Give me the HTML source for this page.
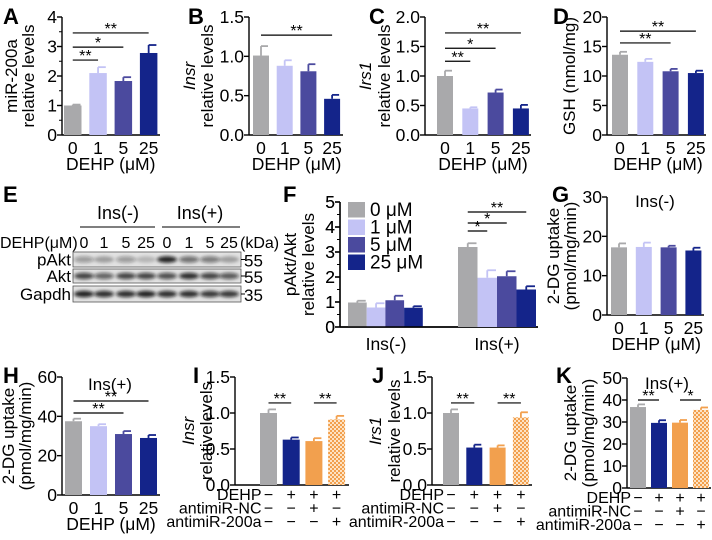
<!DOCTYPE html>
<html><head><meta charset="utf-8"><style>
html,body{margin:0;padding:0;background:#fff}
svg{display:block;font-family:"Liberation Sans",Arial,sans-serif}
</style></head><body>
<svg id="fig" width="712" height="540" viewBox="0 0 712 540" xmlns="http://www.w3.org/2000/svg">
<defs>
<pattern id="chk" width="4" height="4" patternUnits="userSpaceOnUse"><rect width="4" height="4" fill="#fde3c4"/><rect width="2" height="2" fill="#f2a04e"/><rect x="2" y="2" width="2" height="2" fill="#f2a04e"/></pattern>
<filter id="blur" x="-20%" y="-50%" width="140%" height="200%"><feGaussianBlur stdDeviation="1.6"/></filter>
</defs>
<g id="blot"></g>
</svg>
<script>
// ---- data ----
const doseCats=['0','1','5','25'];
const A_vals=[1.0,2.1,1.83,2.78]; const A_errs=[0.03,0.2,0.13,0.27];
const A_ticks=[0,1,2,3,4]; const A_tickLabels=['0','1','2','3','4'];
const B_vals=[1.01,0.88,0.81,0.46]; const B_errs=[0.12,0.07,0.09,0.05];
const B_ticks=[0,0.5,1,1.5]; const B_tickLabels=['0.0','0.5','1.0','1.5'];
const C_vals=[1.0,0.45,0.72,0.45]; const C_errs=[0.09,0.02,0.05,0.06];
const C_ticks=[0,0.5,1,1.5,2]; const C_tickLabels=['0.0','0.5','1.0','1.5','2.0'];
const D_vals=[13.6,12.4,10.8,10.5]; const D_errs=[0.5,0.5,0.4,0.4];
const D_ticks=[0,5,10,15,20]; const D_tickLabels=['0','5','10','15','20'];
const F_groups=['Ins(-)','Ins(+)'];
const F_legend=['0 μM','1 μM','5 μM','25 μM'];
const F_valsMinus=[0.98,0.78,1.07,0.77]; const F_errsMinus=[0.07,0.17,0.18,0.06];
const F_valsPlus=[3.2,1.97,2.03,1.5]; const F_errsPlus=[0.15,0.3,0.2,0.13];
const F_ticks=[0,1,2,3,4,5]; const F_tickLabels=['0','1','2','3','4','5'];
const G_vals=[17.2,17.3,17.2,16.4]; const G_errs=[1.0,1.1,0.4,0.7];
const G_ticks=[0,10,20,30]; const G_tickLabels=['0','10','20','30'];
const H_vals=[37.5,35,31,29]; const H_errs=[1.3,1.0,1.5,1.5];
const H_ticks=[0,20,40,60]; const H_tickLabels=['0','20','40','60'];
const I_vals=[1.0,0.63,0.61,0.91]; const I_errs=[0.05,0.03,0.04,0.05];
const J_vals=[1.0,0.52,0.52,0.94]; const J_errs=[0.05,0.04,0.03,0.07];
const IJ_ticks=[0,0.5,1,1.5]; const IJ_tickLabels=['0.0','0.5','1.0','1.5'];
const K_vals=[36.8,29.6,29.7,35.5]; const K_errs=[1.2,1.2,1.2,1.1];
const K_ticks=[0,10,20,30,40,50]; const K_tickLabels=['0','10','20','30','40','50'];
const treatRows=['DEHP','antimiR-NC','antimiR-200a'];
const treatDEHP=['−','+','+','+']; const treatNC=['−','−','+','−']; const treat200a=['−','−','−','+'];

const doseColors=['#a9a9ab','#c3c3f5','#4b4a9e','#14248a'];
const treatColors=['#a9a9ab','#14248a','#f2a04e','url(#chk)'];

const svg=document.getElementById('fig');
const NS='http://www.w3.org/2000/svg';
function mk(tag,attrs,parent,txt){const e=document.createElementNS(NS,tag);for(const k in attrs)e.setAttribute(k,attrs[k]);if(txt!==undefined)e.textContent=txt;(parent||svg).appendChild(e);return e;}

function letter(t,x,y){const e=mk('text',{x:x,y:y,'font-size':22,'font-weight':'bold'},svg,t);

}

function chart(c){
  const g=mk('g',{});
  
  
  const max=c.ticks[c.ticks.length-1];
  const ys=v=>c.y0-(v/max)*(c.y0-c.yt);
  const bx=i=>c.first+i*c.step;
  const ya=mk('line',{x1:c.ax,y1:c.y0,x2:c.ax,y2:c.yt,stroke:'#000','stroke-width':1.4},g);
  
  
  const xa=mk('line',{x1:c.ax,y1:c.y0,x2:c.xend,y2:c.y0,stroke:'#000','stroke-width':1.4},g);
  
  
  c.ticks.forEach((t,i)=>{
    mk('line',{x1:c.ax-5,y1:ys(t),x2:c.ax,y2:ys(t),stroke:'#000','stroke-width':1.4},g);
    const tl=mk('text',{x:c.ax-5,y:ys(t)+6,'font-size':c.tfs||17.5,'text-anchor':'end'},g,c.tickLabels[i]);
    
    
    if(c.minor&&i<c.ticks.length-1){const m=(t+c.ticks[i+1])/2;mk('line',{x1:c.ax-3,y1:ys(m),x2:c.ax,y2:ys(m),stroke:'#000','stroke-width':1},g);}
  });
  c.vals.forEach((v,i)=>{
    const x=bx(i);
    const r=mk('rect',{x:x,y:ys(v),width:c.bw,height:c.y0-ys(v),fill:c.colors[i]},g);
    
    
    const ec=c.colors[i].indexOf('url')===0?'#f2a04e':c.colors[i];
    const cx=x+c.bw/2, top=ys(v+c.errs[i]);
    mk('line',{x1:cx,y1:ys(v),x2:cx,y2:top,stroke:ec,'stroke-width':1.8},g);
    const eb=mk('line',{x1:cx,y1:top,x2:x+c.bw-1,y2:top,stroke:ec,'stroke-width':1.8},g);
    
    
  });
  (c.brackets||[]).forEach(b=>{
    const x1=bx(b[0])+c.bw/2, x2=bx(b[1])+c.bw/2, y=ys(b[2]);
    const l=mk('line',{x1:x1,y1:y,x2:x2,y2:y,stroke:'#000','stroke-width':1.2},g);
    
    
    mk('text',{x:(x1+x2)/2,y:y+1,'font-size':16,'text-anchor':'middle'},g,b[3]);
  });
  if(c.cats){
    c.cats.forEach((t,i)=>{const e=mk('text',{x:bx(i)+c.bw/2,y:c.y0+19,'font-size':17.5,'text-anchor':'middle'},g,t);
      
      });
    const xt=mk('text',{x:(c.first+bx(3)+c.bw)/2,y:c.y0+35,'font-size':17.5,'text-anchor':'middle'},g,'DEHP (μM)');
    
    
  }
  if(c.treat){
    const rows=[treatDEHP,treatNC,treat200a];
    rows.forEach((r,j)=>{
      const yy=c.y0+15+j*13.5;
      const lab=mk('text',{x:bx(0)+c.bw/2-7,y:yy,'font-size':16,'text-anchor':'end'},g,treatRows[j]);
      
      
      r.forEach((s,i)=>mk('text',{x:bx(i)+c.bw/2,y:yy,'font-size':16,'text-anchor':'middle'},g,s));
    });
  }
  c.ytitle.forEach((t,k)=>{
    const x=t.x, y=(c.y0+c.yt)/2;
    const e=mk('text',{x:x,y:y,'font-size':17,'text-anchor':'middle',transform:`rotate(-90 ${x} ${y})`,'font-style':t.it?'italic':'normal'},g,t.s);
    
    
  });
  if(c.note){const n=mk('text',{x:c.note[0],y:c.note[1],'font-size':17,'text-anchor':'middle'},g,c.note[2]);
    
    }
  return {ys,bx};
}

chart({id:'a',ax:62,y0:135,yt:17,ticks:A_ticks,tickLabels:A_tickLabels,vals:A_vals,errs:A_errs,colors:doseColors,first:64,step:25.3,bw:17.5,xend:160,cats:doseCats,
  brackets:[[0,1,2.54,'**'],[0,2,2.98,'*'],[0,3,3.46,'**']],ytitle:[{x:17,s:'miR-200a'},{x:34,s:'relative levels'}],minor:true});
chart({id:'b',ax:249,y0:135,yt:17,ticks:B_ticks,tickLabels:B_tickLabels,vals:B_vals,errs:B_errs,colors:doseColors,first:253,step:23.7,bw:16,xend:343,cats:doseCats,
  brackets:[[0,3,1.27,'**']],ytitle:[{x:195,s:'Insr',it:true},{x:213,s:'relative levels'}]});
chart({id:'c',ax:425,y0:135,yt:17,ticks:C_ticks,tickLabels:C_tickLabels,vals:C_vals,errs:C_errs,colors:doseColors,first:437,step:25.3,bw:16,xend:531,cats:doseCats,
  brackets:[[0,1,1.25,'**'],[0,2,1.47,'*'],[0,3,1.73,'**']],ytitle:[{x:371,s:'Irs1',it:true},{x:390,s:'relative levels'}]});
chart({id:'d',ax:607,y0:135,yt:17,ticks:D_ticks,tickLabels:D_tickLabels,vals:D_vals,errs:D_errs,colors:doseColors,first:612,step:25.3,bw:16,xend:706,cats:doseCats,
  brackets:[[0,2,15.6,'**'],[0,3,17.6,'**']],ytitle:[{x:575,s:'GSH (nmol/mg)'}]});

(function(){
  chart({id:'f-ins-minus',ax:340,y0:327,yt:202,ticks:F_ticks,tickLabels:F_tickLabels,vals:F_valsMinus,errs:F_errsMinus,colors:doseColors,first:348,step:18.7,bw:18.7,xend:538,
    ytitle:[{x:296,s:'pAkt/Akt'},{x:314,s:'relative levels'}],minor:true});
  chart({id:'f-ins-plus',ax:340,y0:327,yt:202,ticks:F_ticks,tickLabels:F_tickLabels,vals:F_valsPlus,errs:F_errsPlus,colors:doseColors,first:458,step:19.5,bw:19.5,xend:538,
    brackets:[[0,1,3.84,'*'],[0,2,4.16,'*'],[0,3,4.6,'**']],ytitle:[]});
  [386,497].forEach((x,i)=>{const e=mk('text',{x:x,y:350,'font-size':17.5,'text-anchor':'middle'},svg,F_groups[i]);
    
    });
  F_legend.forEach((t,i)=>{
    const r=mk('rect',{x:348,y:202+i*17.5,width:17,height:15.5,fill:doseColors[i]});
    
    
    const e=mk('text',{x:370,y:216+i*17.5,'font-size':19},svg,t);
    
    
  });
})();
chart({id:'g',ax:607,y0:315,yt:197,ticks:G_ticks,tickLabels:G_tickLabels,vals:G_vals,errs:G_errs,colors:doseColors,first:611,step:24.8,bw:16,xend:704,cats:doseCats,
  ytitle:[{x:559,s:'2-DG uptake'},{x:576,s:'(pmol/mg/min)'}],note:[655,207,'Ins(-)']});
chart({id:'h',ax:62,y0:495,yt:377,ticks:H_ticks,tickLabels:H_tickLabels,vals:H_vals,errs:H_errs,colors:doseColors,first:65,step:25,bw:17,xend:160,cats:doseCats,
  brackets:[[0,2,41.7,'**'],[0,3,47.8,'**']],ytitle:[{x:14,s:'2-DG uptake'},{x:31,s:'(pmol/mg/min)'}],note:[110,390,'Ins(+)']});
chart({id:'i',ax:235,y0:485,yt:377,ticks:IJ_ticks,tickLabels:IJ_tickLabels,vals:I_vals,errs:I_errs,colors:treatColors,first:260,step:22.7,bw:17,xend:349,treat:true,
  brackets:[[0,1,1.14,'**'],[2,3,1.14,'**']],ytitle:[{x:194,s:'Insr',it:true},{x:212,s:'relativelevels'}]});
chart({id:'j',ax:432,y0:485,yt:377,ticks:IJ_ticks,tickLabels:IJ_tickLabels,vals:J_vals,errs:J_errs,colors:treatColors,first:443,step:23.3,bw:16,xend:532,treat:true,
  brackets:[[0,1,1.14,'**'],[2,3,1.14,'**']],ytitle:[{x:381,s:'Irs1',it:true},{x:400,s:'relative levels'}]});
chart({id:'k',ax:627,y0:488,yt:378,ticks:K_ticks,tickLabels:K_tickLabels,vals:K_vals,errs:K_errs,colors:treatColors,first:630,step:21,bw:16,xend:711,treat:true,
  brackets:[[0,1,40,'**'],[2,3,40,'*']],ytitle:[{x:576,s:'2-DG uptake'},{x:594,s:'(pmol/mg/min)'}],note:[667,389,'Ins(+)']});

[['A',3,24],['B',188,24],['C',369,24],['D',553,24],['E',3,202],['F',283,202],['G',552,202],['H',3,383],['I',193,383],['J',372,383],['K',556,383]].forEach(l=>letter(l[0],l[1],l[2]));

(function(){
  const g=document.getElementById('blot');
  const t=(x,y,s,a,fs)=>{const e=mk('text',{x:x,y:y,'font-size':fs||15,'text-anchor':a||'start'},g,s);
    
    return e;};
  t(118,219,'Ins(-)','middle',18); t(200,219,'Ins(+)','middle',18);
  mk('line',{x1:80,y1:227,x2:155,y2:227,stroke:'#333','stroke-width':1.2},g);
  mk('line',{x1:162,y1:227,x2:240,y2:227,stroke:'#333','stroke-width':1.2},g);
  t(0,248,'DEHP(μM)','start',16);
  const lanes=[84,104,126,146,167,189,210,229];
  ['0','1','5','25','0','1','5','25'].forEach((s,i)=>t(lanes[i],248,s,'middle',16));
  t(240,248,'(kDa)','start',16);
  const rows=[[252,267,'pAkt','55',[0.35,0.3,0.35,0.2,0.9,0.55,0.5,0.3]],[269,283,'Akt','55',[0.75,0.6,0.75,0.75,0.7,0.85,0.75,0.65]],[286,302,'Gapdh','35',[0.9,0.85,0.85,0.9,0.85,0.85,0.8,0.8]]];
  rows.forEach(r=>{
    const bg=mk('rect',{x:73,y:r[0],width:168,height:r[1]-r[0],fill:'#e2e2e2',stroke:'#555','stroke-width':0.8},g);
    
    
    r[4].forEach((a,i)=>mk('ellipse',{cx:lanes[i],cy:(r[0]+r[1])/2,rx:10,ry:3.2,fill:'#111','fill-opacity':a,filter:'url(#blur)'},g));
    t(71,(r[0]+r[1])/2+6,r[2],'end',17);
    mk('line',{x1:241,y1:(r[0]+r[1])/2,x2:245,y2:(r[0]+r[1])/2,stroke:'#000'},g);
    t(244,(r[0]+r[1])/2+7,r[3],'start',17);
  });
})();
</script>
</body></html>
